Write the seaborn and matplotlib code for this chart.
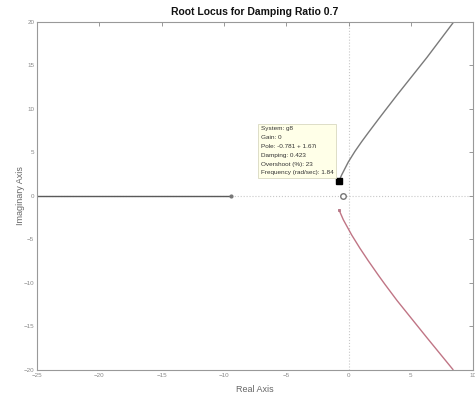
import matplotlib
matplotlib.use("Agg")
import matplotlib.pyplot as plt
import seaborn as sns
import pandas as pd

# Root locus branches (real part, imaginary part)
real_branch_re = [-25.0, -9.4]
real_branch_im = [0.0, 0.0]

upper_re = [-0.781, -0.55, -0.02, 0.52, 1.06, 1.59, 2.39, 2.93, 3.89, 6.30, 8.45]
upper_im = [1.671, 2.41, 3.89, 5.13, 6.24, 7.27, 8.79, 9.80, 11.58, 15.92, 20.0]

lower_re = [-0.76, -0.42, 0.26, 0.92, 1.59, 2.39, 2.93, 3.89, 6.30, 8.39]
lower_im = [-1.61, -2.73, -4.50, -6.02, -7.46, -9.10, -10.17, -12.01, -16.30, -19.96]

zero_re, zero_im = -0.45, 0.0

x_ticks = [-25, -20, -15, -10, -5, 0, 5, 10]
y_ticks = [-20, -15, -10, -5, 0, 5, 10, 15, 20]

tip_lines = [
    "System: g8",
    "Gain: 0",
    "Pole: -0.781 + 1.67i",
    "Damping: 0.423",
    "Overshoot (%): 23",
    "Frequency (rad/sec): 1.84",
]

sns.set_style("white")
plt.rcParams["font.family"] = ["Liberation Sans", "DejaVu Sans"]

fig = plt.figure(figsize=(4.75, 3.97), dpi=100)
ax = fig.add_axes([0.078, 0.068, 0.918, 0.877])

df = pd.concat([
    pd.DataFrame({"re": real_branch_re, "im": real_branch_im, "branch": "real"}),
    pd.DataFrame({"re": upper_re, "im": upper_im, "branch": "upper"}),
    pd.DataFrame({"re": lower_re, "im": lower_im, "branch": "lower"}),
], ignore_index=True)

# reference lines through the origin
ax.axvline(0, color="#c8c8c8", lw=0.8, ls=":", zorder=0)
ax.axhline(0, color="#c8c8c8", lw=0.8, ls=":", zorder=0)

palette = {"real": "#5a5a5a", "upper": "#7a7a7a", "lower": "#c07585"}
sns.lineplot(data=df, x="re", y="im", hue="branch", palette=palette,
             sort=False, estimator=None, lw=1.0, legend=False, ax=ax)

# branch end markers
ax.plot([real_branch_re[-1]], [0], marker="o", ms=2, color="#777777", ls="none")
ax.plot([lower_re[0]], [lower_im[0]], marker="s", ms=2, mfc="none",
        mec="#b07080", mew=0.6, ls="none")
ax.plot([zero_re], [zero_im], marker="o", ms=4, mfc="white",
        mec="#777777", mew=1.0, ls="none")

# selected pole with data tip
ax.plot([upper_re[0]], [upper_im[0]], marker="s", ms=4, color="black", ls="none")
ax.text(-7.05, 2.35, "\n".join(tip_lines), fontsize=4.6, color="#333333",
        linespacing=1.95, va="bottom", ha="left",
        bbox=dict(boxstyle="square,pad=0.45", fc="#ffffe8", ec="#d8d8c0", lw=0.6))

ax.set_xlim(-25, 10)
ax.set_ylim(-20, 20)
ax.set_xticks(x_ticks)
ax.set_yticks(y_ticks)
ax.tick_params(axis="both", direction="in", length=3, width=0.6,
               colors="#888888", labelcolor="#888888", labelsize=4.5,
               top=True, right=True, pad=2)

for s in ax.spines.values():
    s.set_color("#999999")
    s.set_linewidth(0.8)

ax.set_title("Root Locus for Damping Ratio 0.7", fontsize=7.5,
             fontweight="bold", color="#111111", pad=5)
ax.set_xlabel("Real Axis", fontsize=6.5, color="#666666", labelpad=5)
ax.set_ylabel("Imaginary Axis", fontsize=6.5, color="#666666", labelpad=-1)

fig.savefig("out.png", dpi=100)
